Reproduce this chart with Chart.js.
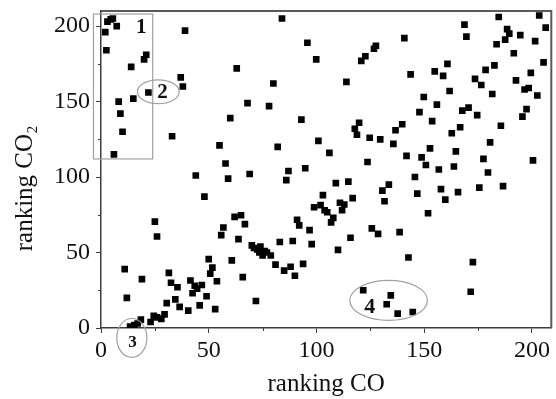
<!DOCTYPE html>
<html><head><meta charset="utf-8">
<script src="https://cdn.jsdelivr.net/npm/chart.js@4.4.1/dist/chart.umd.min.js"></script>
<style>html,body{margin:0;padding:0;background:#fff;}canvas{display:block;}</style>
</head><body>
<canvas id="c" width="556" height="399"></canvas>
<script>
// ranking CO (x) and ranking CO2 (y) of each point
const rankCO = [
  2,2.5,3,4.5,5.5,7.3,8.2,9,10,6,14,15,20,21,22,39,37,38,33,44,48,25,26,11,12,19,
  13.5,15.5,17,18.5,23,24.5,26,28,29.5,30.5,31.5,32.5,34.5,35.5,36.5,40.5,41.5,42.5,43.5,44.6,45.8,46.8,49,
  50,50.7,51.7,53,53.8,55,55.8,56.8,57.8,59,60,60.7,62,63,63.8,65,65.8,66.8,68,69,70,71,71.9,
  72.5,73.5,74,75,76,77,78,78.8,80,81,82,83,84,85,86,87,88,89,90,91,92,93,93.8,94.8,95.8,96.8,97.8,98.9,99.9,
  100.9,101.9,103,103.8,105,106,106.8,107.8,109,110,110.9,111.9,112.9,113.9,114.8,115.8,116.8,117.8,118.8,119.8,
  120.8,121.7,122.7,123.7,124.7,125.7,126.7,127.6,128.6,129.6,130.6,131.6,132.6,133.6,134.5,135.7,136.7,137.7,138.6,139.8,
  140.8,141.8,142.7,143.7,144.7,145.7,146.8,147.8,148.8,149.8,150.8,151.8,152.7,153.7,154.9,155.9,156.8,157.8,158.8,159.8,
  160.8,161.8,162.8,163.8,164.7,165.7,166.7,167.7,168.7,169.6,170.6,171.6,172.6,173.6,174.6,175.6,176.5,177.5,178.5,179.6,
  180.6,181.6,182.6,183.6,184.6,185.6,186.6,187.6,188.5,189.5,191.6,192.6,194.6,195.6,196.6,197.5,198.5,199.5,
  200.5,201.5,202.5,203.4,205.4,206.4
];
const rankCO2 = [
  196,184,203,204.5,205,200,150,142,130,115,173,152,178,181,156,197,166,160,127,101,87,70.5,60.6,39,20,32.4,
  1,2,3,5.5,4,8,7,6,9,16.5,36.5,30,19,27,14,11.5,31.5,23,28,26,15,28.5,21,
  45.6,36,40,12.5,31,121,61.5,66.6,109,99,139,44.8,73.6,172,58.9,74.7,33.7,68.8,149,102,54.7,53,17.9,
  52,50,54,48,51,50,147,48,162,42,120,57,205,38,98,104,40.6,57.6,34.6,71.7,68,138,42.5,105.8,189,64.8,55.6,80,178,
  124,81.4,88,78,76.7,116,70,73,96,51.8,83,78,81.8,163,97,59.8,86,132,128,136,
  177,25,180,110,126,66,185,187,62.4,125,91,84,15.7,95,21.6,122,131,9.5,63.5,135,
  192,114,46.7,168,10.6,100,89,143,113,153,108,76,119,137,170,148,105,92,167,85,
  175,157,129,107,117,90,133,144,201,193,146,24,43.6,165,141,93,161,112,171,103,
  123,155,174,188,206,134,94,191,198,195,182,164,194,140,158,145,159,169,
  111,190,154,207,176,199
];
const xTicks = [0, 50, 100, 150, 200];
const yTicks = [0, 50, 100, 150, 200];
const minorTicks = [25, 75, 125, 175];

const points = rankCO.map((x, i) => ({x: x, y: rankCO2[i]}));

const serif = "'Liberation Serif', 'Times New Roman', serif";
const axisCol = '#3c3c3c';

const decor = {
  id: 'decor',
  afterDatasetsDraw(chart) {
    const ctx = chart.ctx, xs = chart.scales.x, ys = chart.scales.y, a = chart.chartArea;
    const px = v => xs.getPixelForValue(v), py = v => ys.getPixelForValue(v);
    ctx.save();
    // frame top & right
    ctx.strokeStyle = '#5a5a5a'; ctx.lineWidth = 2;
    ctx.beginPath();
    ctx.moveTo(a.left, a.top); ctx.lineTo(a.right, a.top); ctx.lineTo(a.right, a.bottom);
    ctx.stroke();
    // minor ticks
    ctx.strokeStyle = axisCol; ctx.lineWidth = 1;
    ctx.beginPath();
    minorTicks.forEach(v => {
      const X = Math.round(px(v)) + 0.5; ctx.moveTo(X, a.bottom); ctx.lineTo(X, a.bottom + 3);
      const Y = Math.round(py(v)) + 0.5; ctx.moveTo(a.left, Y); ctx.lineTo(a.left - 3, Y);
    });
    ctx.stroke();
    // annotations
    ctx.strokeStyle = '#a0a0a0'; ctx.lineWidth = 1.2;
    ctx.strokeRect(px(-3.5), py(208), px(24) - px(-3.5), py(112) - py(208));
    const ell = (cx, cy, rx, ry) => {
      ctx.beginPath();
      ctx.ellipse(px(cx), py(cy), Math.abs(px(cx + rx) - px(cx)), Math.abs(py(cy + ry) - py(cy)), 0, 0, Math.PI * 2);
      ctx.stroke();
    };
    ell(26.6, 156.5, 9.7, 7.9);
    ell(14.3, -6.6, 7, 12.9);
    ell(133.5, 18.3, 18, 13.2);
    ctx.fillStyle = '#111'; ctx.textAlign = 'center'; ctx.textBaseline = 'middle';
    ctx.font = "bold 21px " + serif;
    ctx.fillText('1', px(18.7), py(199));
    ctx.fillText('2', px(28.6), py(156));
    ctx.font = "bold 17px " + serif;
    ctx.fillText('3', px(14.6), py(-10));
    ctx.font = "bold 22px " + serif;
    ctx.fillText('4', px(124.7), py(13.5));
    ctx.restore();
  }
};

new Chart(document.getElementById('c'), {
  type: 'scatter',
  data: {
    datasets: [{
      data: points,
      pointStyle: 'rect',
      pointRadius: 4.7,
      pointHoverRadius: 4.7,
      backgroundColor: '#000',
      borderColor: '#000',
      borderWidth: 0
    }]
  },
  options: {
    responsive: false,
    animation: false,
    events: [],
    layout: {padding: {top: 11, right: 3, left: 0, bottom: 0}},
    plugins: {legend: {display: false}, tooltip: {enabled: false}},
    scales: {
      x: {
        type: 'linear', min: 0, max: 209,
        afterFit(s) { s.height = 71; s.paddingLeft = 0; s.paddingRight = 0; },
        afterBuildTicks(s) { s.ticks = xTicks.map(v => ({value: v})); },
        border: {display: true, color: axisCol, width: 1.5},
        grid: {display: true, drawOnChartArea: false, drawTicks: true, tickLength: 5, color: axisCol, tickWidth: 1},
        ticks: {font: {family: serif, size: 24}, color: '#111', padding: 3, maxRotation: 0},
        title: {display: true, text: 'ranking CO', font: {family: serif, size: 25}, color: '#111', padding: {top: 0, bottom: 0}}
      },
      y: {
        type: 'linear', min: 0, max: 210,
        afterFit(s) { s.width = 101; s.paddingTop = 0; s.paddingBottom = 0; },
        afterBuildTicks(s) { s.ticks = yTicks.map(v => ({value: v})); },
        border: {display: true, color: axisCol, width: 1.5},
        grid: {display: true, drawOnChartArea: false, drawTicks: true, tickLength: 5, color: axisCol, tickWidth: 1},
        ticks: {font: {family: serif, size: 24}, color: '#111', padding: 6},
        title: {display: true, text: 'ranking CO\u2082      ', font: {family: serif, size: 25}, color: '#111', padding: {top: 10, bottom: 0}}
      }
    }
  },
  plugins: [decor]
});
</script>
</body></html>
